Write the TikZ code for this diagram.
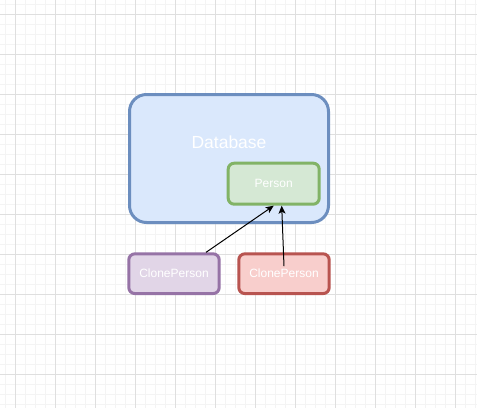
\documentclass[tikz,border=0pt]{standalone}
\usepackage{fontspec}
\setmainfont{Liberation Sans}
\usetikzlibrary{arrows.meta}
\definecolor{dbfill}{HTML}{DAE8FC}
\definecolor{dbline}{HTML}{6C8EBF}
\definecolor{gfill}{HTML}{D5E8D4}
\definecolor{gline}{HTML}{82B366}
\definecolor{pfill}{HTML}{E1D5E7}
\definecolor{pline}{HTML}{9673A6}
\definecolor{rfill}{HTML}{F8CECC}
\definecolor{rline}{HTML}{B85450}
\definecolor{gridminor}{HTML}{F4F4F4}
\definecolor{gridmajor}{HTML}{DFDFDF}
\begin{document}
\begin{tikzpicture}[x=1pt,y=-1pt,
  box/.style={draw, line width=3pt, rounded corners=6pt, text=white,
    font=\fontsize{12}{14}\selectfont, inner sep=0pt},
  conn/.style={-{Stealth[length=8pt,width=7pt,inset=2pt]}, line width=1pt, black},
  minorline/.style={gridminor, line width=1pt},
  majorline/.style={gridmajor, line width=1pt}]
\useasboundingbox (0,0) rectangle (477,408);
\fill[white] (0,0) rectangle (477,408);
\foreach \i in {0,...,47} {\draw[minorline] ({5.3+10*\i},0) -- ({5.3+10*\i},408);}
\foreach \i in {0,...,40} {\draw[minorline] (0,{4.3+10*\i}) -- (477,{4.3+10*\i});}
\foreach \i in {0,...,11} {\draw[majorline] ({15.3+40*\i},0) -- ({15.3+40*\i},408);}
\foreach \i in {0,...,9} {\draw[majorline] (0,{14.3+40*\i}) -- (477,{14.3+40*\i});}

\node[box, fill=dbfill, draw=dbline, minimum width=199pt, minimum height=128pt,
  rounded corners=17pt,
  label={[text=white, font=\fontsize{17.5}{20}\selectfont, yshift=15.8pt]center:Database}]
  (db) at (229,158.5) {};
\node[box, fill=gfill, draw=gline, minimum width=91pt, minimum height=41pt] (per) at (273.7,183.7) {Person};
\node[box, fill=pfill, draw=pline, minimum width=90.4pt, minimum height=39.7pt] (cp1) at (174,273.7) {ClonePerson};
\node[box, fill=rfill, draw=rline, minimum width=90.4pt, minimum height=39.7pt] (cp2) at (284,273.7) {ClonePerson};

\draw[conn] ([xshift=32pt]cp1.north) -- (per.south);
\draw[conn] ([yshift=7.5pt]cp2.center) -- ([xshift=8pt]per.south);
\end{tikzpicture}
\end{document}
